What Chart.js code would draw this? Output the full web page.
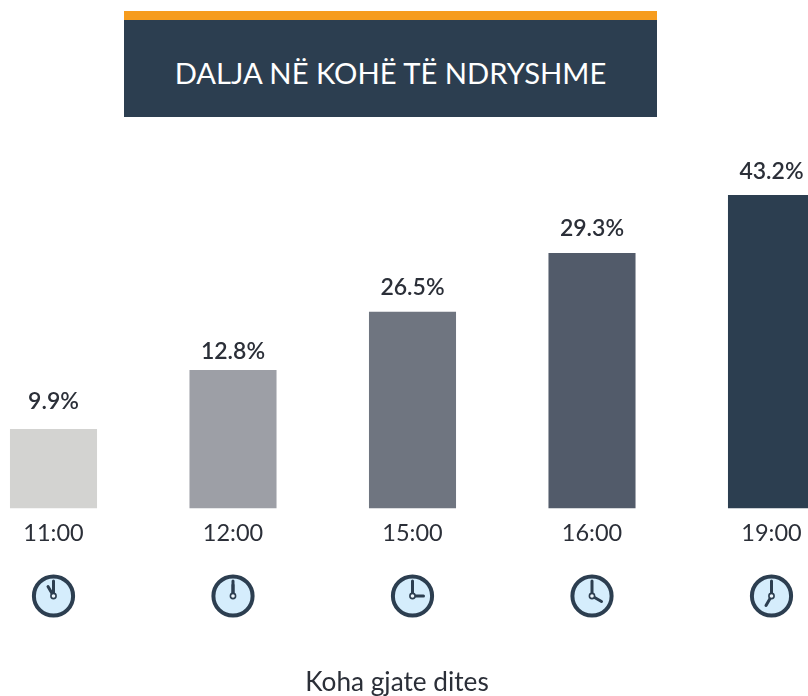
<!DOCTYPE html>
<html lang="sq"><head><meta charset="utf-8">
<script src="https://cdn.jsdelivr.net/npm/chart.js@4"></script>
<style>
html,body{margin:0;padding:0;background:#fff;width:808px;height:696px;overflow:hidden}
#wrap{position:absolute;left:-40px;top:0;width:905px;height:696px}
#head{position:absolute;left:124px;top:11px;width:533px;height:106px;background:#2c3e50;border-top:9px solid #f69c1e;box-sizing:border-box;color:#fff;font:400 29.2px Lato,sans-serif;display:flex;align-items:center;justify-content:center;padding-top:7px;z-index:2;white-space:nowrap}
</style></head><body>
<div id="head">DALJA NË KOHË TË NDRYSHME</div>
<div id="wrap"><canvas id="c" width="905" height="696"></canvas></div>
<script>
// Category labels along the axis
const categories = ["11:00","12:00","15:00","16:00","19:00"];
// Percentages printed above the bars
const printedValues = [9.9,12.8,26.5,29.3,43.2];
// Bar heights as drawn in the picture (same unit, anchored on the tallest bar):
// the source graphic steps its bars evenly, they are not proportional to the printed figures
const drawnHeights = [10.95,19.1,27.1,35.2,43.2];
const barColors = ["#d3d3d1","#9d9fa6","#6f7580","#525b6a","#2c3e50"];
const axisTitle = "Koha gjate dites";
const ink = "#2b2f38";
const font = "Lato, sans-serif";

const decor = {
  id:"decor",
  afterDraw(chart){
    const {ctx,scales:{x,y}} = chart;
    ctx.save();
    ctx.textAlign="center"; ctx.textBaseline="alphabetic";
    ctx.fillStyle=ink; ctx.font="600 23px "+font;
    const lift=[20,11,17,17,16];
    printedValues.forEach((v,i)=>{
      ctx.fillText(v.toFixed(1)+"%", x.getPixelForValue(i), y.getPixelForValue(drawnHeights[i])-lift[i]);
    });
    // clocks under each tick, hands read from the category's hour
    const cy=596;
    categories.forEach((c,i)=>{
      const cx=x.getPixelForValue(i), h=parseInt(c)%12;
      ctx.beginPath(); ctx.arc(cx,cy,19.6,0,Math.PI*2);
      ctx.fillStyle="#d5edfc"; ctx.fill();
      ctx.lineWidth=4; ctx.strokeStyle="#2c3e50"; ctx.stroke();
      ctx.lineCap="round"; ctx.lineWidth=3;
      ctx.beginPath(); ctx.moveTo(cx,cy); ctx.lineTo(cx,cy-15); ctx.stroke();
      const a=h/12*Math.PI*2;
      ctx.beginPath(); ctx.moveTo(cx,cy); ctx.lineTo(cx+11*Math.sin(a),cy-11*Math.cos(a)); ctx.stroke();
      ctx.beginPath(); ctx.arc(cx,cy,2.6,0,Math.PI*2);
      ctx.fillStyle="#eef7fd"; ctx.fill(); ctx.lineWidth=1.6; ctx.stroke();
    });
    ctx.fillStyle=ink; ctx.font="400 26.2px "+font;
    ctx.fillText(axisTitle, 437, 691);
    ctx.restore();
  }
};

new Chart(document.getElementById("c"),{
  type:"bar",
  data:{labels:categories,datasets:[{data:drawnHeights,backgroundColor:barColors,borderWidth:0,
    categoryPercentage:1,barPercentage:0.485}]},
  options:{
    responsive:false,animation:false,
    layout:{padding:{left:3.75,right:3.75,top:145.65,bottom:0}},
    plugins:{legend:{display:false},title:{display:false},tooltip:{enabled:false}},
    scales:{
      x:{grid:{display:false,drawTicks:false},border:{display:false},
        afterFit(s){s.height=187.5;},
        ticks:{color:ink,padding:11,maxRotation:0,font:{family:font,size:23.5,weight:"400"}}},
      y:{display:false,min:0,max:50}
    }
  },
  plugins:[decor]
});
</script></body></html>
